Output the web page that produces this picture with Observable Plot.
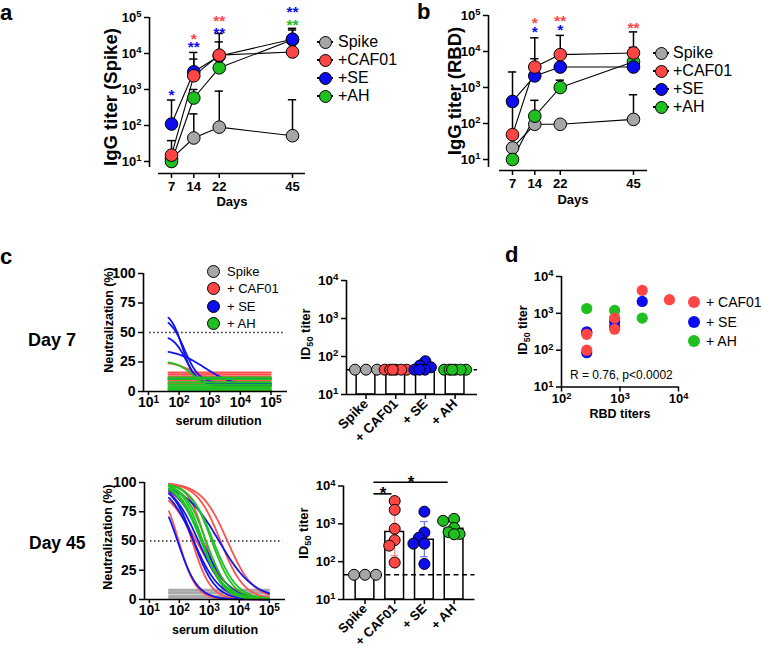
<!DOCTYPE html>
<html><head><meta charset="utf-8">
<script src="https://cdn.jsdelivr.net/npm/d3@7"></script>
<script src="https://cdn.jsdelivr.net/npm/@observablehq/plot@0.6"></script>
<style>
body{margin:0;background:#fff}
#fig{position:relative;width:761px;height:649px;overflow:hidden;background:#fff;font-family:"Liberation Sans",Arial,Helvetica,sans-serif;color:#000}
.t{position:absolute;white-space:nowrap;line-height:1}
#fig svg g[aria-label$="axis"] line,#fig svg g[aria-label$="tick"] path{stroke-width:1.5px}
</style></head><body><div id="fig"></div>
<script>
// ================= DATA =================
const groups = ["Spike", "+CAF01", "+SE", "+AH"];
const groupLabelsC = ["Spike", "+ CAF01", "+ SE", "+ AH"];
const groupColors = ["#a6a6a6", "#ff4646", "#0c0cef", "#1fbf1f"];
const curveColors = ["#a9a9a9", "#ff5151", "#1414ee", "#22c222"];
const days = [7, 14, 22, 45];

// panel a : IgG titer (Spike), mean and upper SD per day
const aSpike  = [12, 45, 90, 52];
const aCAF01  = [15, 2400, 9000, 11000];
const aSE     = [110, 3100, 8500, 25000];
const aAH     = [10, 580, 4000, 24000];
const aSpikeSD = [null, 210, 900, 520];
const aCAF01SD = [38, 7000, 21000, null];
const aSESD    = [510, 10700, 36000, 50000];
const aAHSD    = [null, 1000, null, 45000];
const aStarDay   = [7, 14, 14, 22, 22, 45, 45];
const aStarGroup = ["+SE", "+CAF01", "+SE", "+CAF01", "+SE", "+SE", "+AH"];
const aStarText  = ["*", "*", "**", "**", "**", "**", "**"];
const aStarLevel = [880, 31600, 19000, 100000, 49000, 178000, 78000];

// panel b : IgG titer (RBD)
const bSpike  = [21, 95, 95, 130];
const bCAF01  = [49, 3700, 8200, 9100];
const bSE     = [410, 2100, 3700, 3700];
const bAH     = [10, 160, 1000, 5200];
const bSpikeSD = [null, null, null, 630];
const bCAF01SD = [300, 24000, 28000, 35000];
const bSESD    = [2700, 6300, null, 13000];
const bAHSD    = [null, 440, 1600, null];
const bStarDay   = [14, 14, 22, 22, 45];
const bStarGroup = ["+CAF01", "+SE", "+CAF01", "+SE", "+CAF01"];
const bStarText  = ["*", "*", "**", "*", "**"];
const bStarLevel = [77400, 43500, 88000, 49500, 56200];

// panel c : neutralization curves (serum dilution range 1:45 .. 1:98415)
const dilMin = 45, dilMax = 98415;
// day 7: flat responses (% neutralization) and fitted curves [top, bottom, EC50, hill]
const n7SpikeFlat = [7, 4.5, 2.5];
const n7CAF01Flat = [16.2, 14.8, 13, 9.3, 7];
const n7CAF01Fit  = [[25, 8, 300, 1.4]];
const n7SEFlat    = [11.5, 10.5];
const n7SEFit     = [[68, 6, 130, 2.2], [64, 7, 150, 1.8], [48, 5, 170, 2], [36, 4, 700, 0.9]];
const n7AHFlat    = [12, 10.5, 8, 6, 4.5, 3, 2, 1, 0.3];
const n7AHFit     = [[26, 1, 300, 1.5]];
// day 45
const n45SpikeFlat = [8.5, 7.3, 6, 5, 3, 1.5];
const id50CAF01 = [4000, 2350, 740, 370, 265, 95];
const hillCAF01 = [1.0, 1.1, 1.5, 0.8, 1.4, 1.5];
const id50SE    = [2100, 590, 430, 300, 300, 87];
const hillSE    = [0.75, 1.0, 1.0, 1.0, 1.2, 1.3];
const id50AH    = [1350, 1200, 780, 600, 540, 530];
const hillAH    = [1.1, 1.2, 1.2, 1.3, 1.2, 1.1];

// ID50 titers (bar + dots)
const lod = 45;
const id50d7Spike = [45, 45, 45];
const id50d7CAF01 = [45, 45, 45, 45, 45, 45];
const id50d7SE    = [75, 58, 52, 45, 45, 45];
const id50d7AH    = [45, 45, 45, 45, 45, 45];
const bar7  = [45, 45, 47, 45];
const bar45 = [45, 610, 380, 740];
const err45Lo = [null, 145, 135, null];
const err45Hi = [null, 2800, 1150, null];
const errColors = [null, "#ff8f8f", "#7878ff", null];
const bracketFrom  = [0.3, 0.3];
const bracketTo    = [0.91, 2.8];
const bracketLevel = [6200, 12600];

// panel d : RBD titers vs ID50
const dRBDCAF01 = [270, 270, 810, 810, 2400, 7000];
const dID50CAF01 = [270, 100, 740, 370, 4200, 2350];
const dRBDSE = [270, 270, 270, 810, 810, 2400];
const dID50SE = [316, 300, 85, 590, 430, 2100];
const dRBDAH = [270, 810, 2400];
const dID50AH = [1350, 1200, 740];

// ================= HELPERS =================
const fig = document.getElementById("fig");
const pow10 = d => "10^" + Math.round(Math.log10(d));
const FONT = "Liberation Sans, Arial, Helvetica, sans-serif";

function addText(html, x, y, o = {}) {
  const el = document.createElement("div");
  el.className = "t";
  el.innerHTML = html;
  const size = o.size || 13;
  el.style.fontSize = size + "px";
  el.style.fontWeight = o.weight || "normal";
  if (o.rotate) {
    el.style.left = x + "px"; el.style.top = y + "px";
    el.style.transform = "translate(-50%,-50%) rotate(-90deg)";
  } else {
    el.style.top = (y - 0.8465 * size) + "px";
    el.style.left = x + "px";
    if (o.anchor === "middle") el.style.transform = "translateX(-50%)";
  }
  fig.appendChild(el);
}
function addCircle(cx, cy, d, fill, stroke) {
  const el = document.createElement("div");
  Object.assign(el.style, {position: "absolute", left: (cx - d / 2) + "px", top: (cy - d / 2) + "px",
    width: d + "px", height: d + "px", borderRadius: "50%", background: fill,
    border: stroke ? "1px solid " + stroke : "none", boxSizing: "border-box"});
  fig.appendChild(el);
}
function addLine(cx, cy, w) {
  const el = document.createElement("div");
  Object.assign(el.style, {position: "absolute", left: (cx - w / 2) + "px", top: (cy - 0.6) + "px",
    width: w + "px", height: "1.2px", background: "#000"});
  fig.appendChild(el);
}
function place(svg, left, top, fontSize) {
  svg.style.position = "absolute";
  svg.style.left = left + "px";
  svg.style.top = top + "px";
  svg.style.background = "transparent";
  svg.style.overflow = "visible";
  svg.style.maxWidth = "none";
  svg.setAttribute("font-family", FONT);
  svg.setAttribute("font-size", fontSize);
  svg.setAttribute("font-weight", "bold");
  svg.querySelectorAll("g[aria-label*='axis']").forEach(g => { g.removeAttribute("font-size"); g.removeAttribute("font-family"); });
  svg.querySelectorAll("g[aria-label*='axis'] text").forEach(t => t.setAttribute("font-size", fontSize));
  svg.querySelectorAll("text").forEach(t => {
    const m = /^10\^(\d+)$/.exec(t.textContent);
    if (m) t.innerHTML = `10<tspan dy="-0.45em" font-size="72%">${m[1]}</tspan>`;
  });
  fig.appendChild(svg);
}

// ================= PANELS a & b =================
const drawOrder = ["Spike", "+AH", "+SE", "+CAF01"];
function timeRows(means, sds) {
  return days.flatMap((d, i) => groups.map((g, j) => ({day: d, group: g, v: means[j][i], sd: sds[j][i]})));
}
function timePlot(rows, stars, g) {
  const withSd = rows.filter(d => d.sd != null);
  const dots = drawOrder.flatMap(k => rows.filter(r => r.group === k));
  return Plot.plot({
    width: g.w, height: g.h, marginLeft: g.ml, marginRight: g.mr, marginTop: g.mt, marginBottom: g.mb,
    x: {domain: g.xd, ticks: days, tickSize: 5, tickPadding: 3, label: null},
    y: {type: "log", domain: g.yd, ticks: [1e1, 1e2, 1e3, 1e4, 1e5], tickFormat: pow10, tickSize: 5, tickPadding: 3, label: null},
    color: {domain: groups, range: groupColors},
    marks: [
      Plot.ruleX([g.xd[0]], {y1: g.yAxisBottom, y2: 1e5, strokeWidth: 1.6}),
      Plot.ruleY([g.yd[0]], {x1: g.xAxisLeft, x2: g.xd[1], strokeWidth: 1.6}),
      Plot.line(rows, {x: "day", y: "v", z: "group", stroke: "black", strokeWidth: 1.1}),
      Plot.ruleX(withSd, {x: "day", y1: "v", y2: "sd", strokeWidth: 1.5}),
      Plot.ruleY(withSd, {y: "sd", x1: d => d.day - 1.3, x2: d => d.day + 1.3, strokeWidth: 1.5}),
      Plot.dot(dots, {x: "day", y: "v", r: 6.3, fill: "group", stroke: "black", strokeWidth: 1}),
      Plot.text(stars, {x: "day", y: "level", text: "text", fill: "group", fontSize: 15.5, fontWeight: "bold", dy: 4})
    ]
  });
}
const aRows = timeRows([aSpike, aCAF01, aSE, aAH], [aSpikeSD, aCAF01SD, aSESD, aAHSD]);
const aStars = aStarDay.map((d, i) => ({day: d, group: aStarGroup[i], text: aStarText[i], level: aStarLevel[i]}));
place(timePlot(aRows, aStars, {w: 320, h: 215, ml: 149, mr: 15, mt: 17, mb: 42, xd: [0.09, 49.08], yd: [4.64, 1e5], yAxisBottom: 6.8, xAxisLeft: 2.92}), 0, 0, 13);

const bRows = timeRows([bSpike, bCAF01, bSE, bAH], [bSpikeSD, bCAF01SD, bSESD, bAHSD]);
const bStars = bStarDay.map((d, i) => ({day: d, group: bStarGroup[i], text: bStarText[i], level: bStarLevel[i]}));
place(timePlot(bRows, bStars, {w: 290, h: 215, ml: 108, mr: 23, mt: 15, mb: 45, xd: [-0.54, 49.4], yd: [4.95, 1e5], yAxisBottom: 6.0, xAxisLeft: 2.92}), 380, 0, 13);

// ================= PANEL c : neutralization =================
const dil = d3.range(0, 81).map(k => 10 ** (Math.log10(dilMin) + k * (Math.log10(dilMax) - Math.log10(dilMin)) / 80));
let curveId = 0;
function flatRows(group, levels) {
  return levels.flatMap(v => { const id = curveId++; return [{id, group, x: dilMin, y: v}, {id, group, x: dilMax, y: v}]; });
}
function fitRows(group, params) {
  return params.flatMap(([top, bottom, ec50, hill]) => {
    const id = curveId++;
    return dil.map(x => ({id, group, x, y: bottom + (top - bottom) / (1 + (x / ec50) ** hill)}));
  });
}
function neutPlot(rows, g) {
  const xd = [10 ** 0.837, 10 ** 5.54];
  return Plot.plot({
    width: g.w, height: g.h, marginLeft: g.ml, marginRight: g.mr, marginTop: g.mt, marginBottom: g.mb,
    x: {type: "log", domain: xd, ticks: [1e1, 1e2, 1e3, 1e4, 1e5], tickFormat: pow10, tickSize: 4, tickPadding: 2, label: null},
    y: {domain: [0, 100], ticks: [0, 25, 50, 75, 100], tickSize: 5, tickPadding: 3, label: null},
    color: {domain: groups, range: curveColors},
    marks: [
      Plot.ruleY([50], {x1: 11, x2: 10 ** 5.45, strokeDasharray: "1.3,2.7", strokeWidth: 1.3}),
      Plot.line(rows, {x: "x", y: "y", z: "id", stroke: "group", strokeWidth: 1.8}),
      Plot.ruleX([xd[0]], {strokeWidth: 1.6}),
      Plot.ruleY([0], {strokeWidth: 1.6})
    ]
  });
}
const n7Rows = [
  ...flatRows("Spike", n7SpikeFlat),
  ...flatRows("+CAF01", n7CAF01Flat), ...fitRows("+CAF01", n7CAF01Fit),
  ...flatRows("+SE", n7SEFlat), ...fitRows("+SE", n7SEFit),
  ...flatRows("+AH", n7AHFlat), ...fitRows("+AH", n7AHFit)
];
place(neutPlot(n7Rows, {w: 205, h: 170, ml: 53, mr: 8, mt: 23, mb: 29}), 90, 250, 14);

const n45Rows = [
  ...flatRows("Spike", n45SpikeFlat),
  ...fitRows("+CAF01", id50CAF01.map((v, i) => [100, 0, v, hillCAF01[i]])),
  ...fitRows("+SE", id50SE.map((v, i) => [100, 0, v, hillSE[i]])),
  ...fitRows("+AH", id50AH.map((v, i) => [100, 0, v, hillAH[i]]))
];
place(neutPlot(n45Rows, {w: 205, h: 170, ml: 54, mr: 10, mt: 23, mb: 30}), 90, 459, 14);

// ================= PANEL c : ID50 bars =================
function swarm(values, yPx, step = 5.5, minD = 6) {
  const placed = [];
  return values.map(v => {
    const py = yPx(v);
    const cands = [0, -step, step, -2 * step, 2 * step];
    let best = cands.find(c => placed.every(p => Math.hypot(c - p[0], py - p[1]) >= minD));
    if (best === undefined) {
      let score = -1;
      for (let c = -6; c <= 6; c += 0.5) {
        const s = Math.min(...placed.map(p => Math.hypot(c - p[0], py - p[1])));
        if (s > score) { score = s; best = c; }
      }
    }
    placed.push([best, py]);
    return best;
  });
}
function barPlot(bars, dotsets, g, extra) {
  const yPx = d3.scaleLog().domain([10, 1e4]).range([g.h - g.mb, g.mt]);
  const pxPerUnit = (g.w - g.ml - g.mr) / (g.xd[1] - g.xd[0]);
  const barRows = bars.map((v, i) => ({i, group: groups[i], v}));
  const dotRows = dotsets.flatMap((vals, i) => {
    const off = swarm(vals, yPx);
    return vals.map((v, k) => ({group: groups[i], v, xo: i + off[k] / pxPerUnit}));
  });
  const errMarks = [];
  if (extra && extra.lo) {
    extra.lo.forEach((lo, i) => {
      if (lo == null) return;
      const r = [{i, lo, hi: extra.hi[i]}];
      const c = errColors[i];
      errMarks.push(
        Plot.ruleX(r, {x: "i", y1: "lo", y2: "hi", stroke: c, strokeWidth: 1.3}),
        Plot.ruleY(r, {y: "lo", x1: d => d.i - 0.13, x2: d => d.i + 0.13, stroke: c, strokeWidth: 1.3}),
        Plot.ruleY(r, {y: "hi", x1: d => d.i - 0.13, x2: d => d.i + 0.13, stroke: c, strokeWidth: 1.3})
      );
    });
  }
  const bracketMarks = [];
  if (extra && extra.brackets) {
    const br = extra.brackets;
    bracketMarks.push(
      Plot.ruleY(br, {y: "level", x1: "from", x2: "to", strokeWidth: 1.6}),
      Plot.text(br, {x: d => (d.from + d.to) / 2, y: "level", text: () => "*", fontSize: 17, fontWeight: "bold"})
    );
  }
  return Plot.plot({
    width: g.w, height: g.h, marginLeft: g.ml, marginRight: g.mr, marginTop: g.mt, marginBottom: g.mb,
    x: {domain: g.xd, ticks: [0, 1, 2, 3], tickFormat: i => groupLabelsC[i], tickRotate: -45, tickSize: 5, tickPadding: 2, label: null},
    y: {type: "log", domain: [10, 1e4], ticks: [1e1, 1e2, 1e3, 1e4], tickFormat: pow10, tickSize: 5, tickPadding: 3, label: null},
    color: {domain: groups, range: groupColors},
    marks: [
      Plot.rect(barRows, {x1: d => d.i - 0.315, x2: d => d.i + 0.315, y1: 10, y2: "v", fill: "white", stroke: "black", strokeWidth: 1.5}),
      Plot.ruleY([lod], {x1: g.xd[0], x2: g.xd[1], strokeDasharray: "5,3.5", strokeWidth: 1.6}),
      ...errMarks,
      Plot.dot(dotRows, {x: "xo", y: "v", r: 5.5, fill: "group", stroke: "black", strokeWidth: 1}),
      Plot.ruleX([g.xd[0]], {strokeWidth: 1.6}),
      Plot.ruleY([10], {x1: g.xd[0], x2: g.xd[1], strokeWidth: 1.6}),
      ...bracketMarks
    ]
  });
}
place(barPlot(bar7, [id50d7Spike, id50d7CAF01, id50d7SE, id50d7AH],
  {w: 190, h: 200, ml: 51, mr: 8, mt: 25, mb: 61, xd: [-0.657, 3.754]}), 295, 255, 13.5);
const brackets = bracketFrom.map((f, i) => ({from: f, to: bracketTo[i], level: bracketLevel[i]}));
place(barPlot(bar45, [[45, 45, 45], id50CAF01, id50SE, id50AH],
  {w: 190, h: 194, ml: 48, mr: 10.5, mt: 30.5, mb: 50, xd: [-0.724, 3.704]},
  {lo: err45Lo, hi: err45Hi, brackets}), 295, 455, 13);

// ================= PANEL d =================
const dRows = [
  ...dRBDSE.map((x, i) => ({group: "+SE", x, y: dID50SE[i]})),
  ...dRBDAH.map((x, i) => ({group: "+AH", x, y: dID50AH[i]})),
  ...dRBDCAF01.map((x, i) => ({group: "+CAF01", x, y: dID50CAF01[i]}))
];
place(Plot.plot({
  width: 190, height: 160, marginLeft: 61, marginRight: 12, marginTop: 21, marginBottom: 28.5,
  x: {type: "log", domain: [100, 1e4], ticks: [1e2, 1e3, 1e4], tickFormat: pow10, tickSize: 5, tickPadding: 2, label: null},
  y: {type: "log", domain: [10, 1e4], ticks: [1e1, 1e2, 1e3, 1e4], tickFormat: pow10, tickSize: 5, tickPadding: 3, label: null},
  color: {domain: groups, range: groupColors},
  marks: [
    Plot.dot(dRows, {x: "x", y: "y", r: 5.6, fill: "group"}),
    Plot.ruleX([100], {strokeWidth: 1.6}),
    Plot.ruleY([10], {strokeWidth: 1.6})
  ]
}), 500, 255, 13);

// ================= TEXT, LEGENDS =================
addText("a", 0, 21, {size: 22, weight: "bold"});
addText("b", 417, 19.5, {size: 22, weight: "bold"});
addText("c", 0, 265, {size: 22, weight: "bold"});
addText("d", 505, 263, {size: 22, weight: "bold"});

addText("IgG titer (Spike)", 111, 97, {size: 18.5, weight: "bold", rotate: true});
addText("Days", 232, 206.5, {size: 13, weight: "bold", anchor: "middle"});
addText("IgG titer (RBD)", 455, 91, {size: 18.5, weight: "bold", rotate: true});
addText("Days", 573, 204.5, {size: 13, weight: "bold", anchor: "middle"});

groups.forEach((g, i) => {
  addLine(325, 42 + 18 * i, 16); addCircle(325, 42 + 18 * i, 13, groupColors[i], "#000");
  addText(g, 338, 42 + 18 * i + 5.7, {size: 16});
  addLine(661, 53 + 18 * i, 16); addCircle(661, 53 + 18 * i, 13, groupColors[i], "#000");
  addText(g, 673, 53 + 18 * i + 5.7, {size: 16});
  addCircle(213, 271 + 17.5 * i, 13, groupColors[i], "#000");
  addText(groupLabelsC[i], 227, 271 + 17.5 * i + 4.7, {size: 13});
});
groups.slice(1).forEach((g, i) => {
  addCircle(694, 302 + 19.5 * i, 12, groupColors[i + 1], null);
  addText(groupLabelsC[i + 1], 706, 302 + 19.5 * i + 5, {size: 14});
});

addText("Day 7", 28, 346, {size: 18, weight: "bold"});
addText("Day 45", 29, 550, {size: 17.5, weight: "bold"});
addText("Neutralization (%)", 108.5, 320, {size: 12.5, weight: "bold", rotate: true});
addText("serum dilution", 218.5, 426, {size: 12.5, weight: "bold", anchor: "middle"});
addText("Neutralization (%)", 108, 537, {size: 12.5, weight: "bold", rotate: true});
addText("serum dilution", 215, 635, {size: 12.5, weight: "bold", anchor: "middle"});
const id50Label = 'ID<span style="font-size:70%;position:relative;top:0.3em">50</span> titer';
addText(id50Label, 306, 334, {size: 13, weight: "bold", rotate: true});
addText(id50Label, 304, 533, {size: 13, weight: "bold", rotate: true});
addText(id50Label, 522.5, 330, {size: 12.5, weight: "bold", rotate: true});
addText("RBD titers", 620, 418.5, {size: 12.5, weight: "bold", anchor: "middle"});
addText("R = 0.76, p&lt;0.0002", 570, 379, {size: 12});
</script></body></html>
